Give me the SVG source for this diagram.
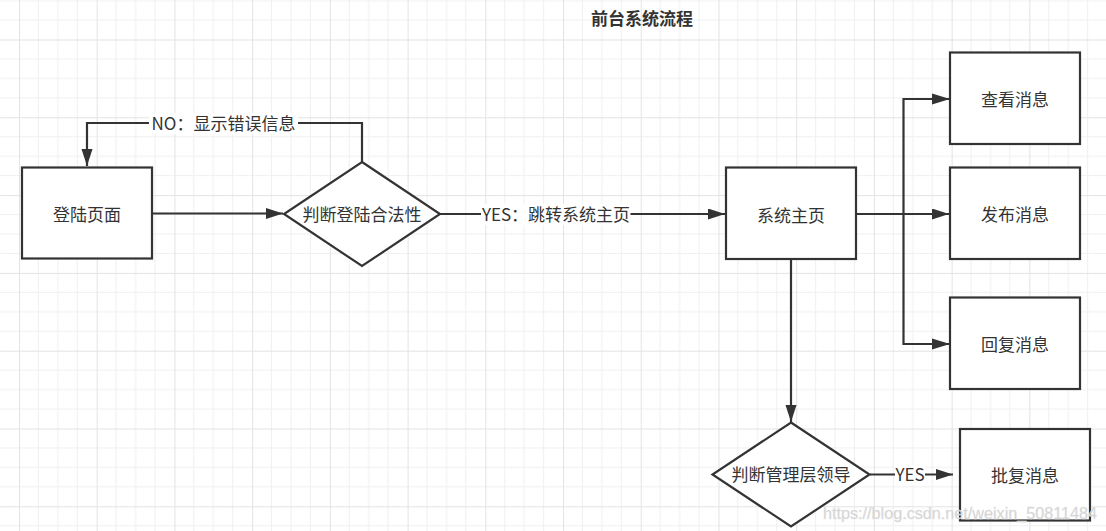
<svg xmlns="http://www.w3.org/2000/svg" width="1106" height="531" viewBox="0 0 1106 531">
<style>
.box{fill:#fff;stroke:#333;stroke-width:2.2}
.t{font-family:"Noto Sans CJK SC","Liberation Sans",sans-serif;font-size:17px;fill:#333;text-anchor:middle}
.title{font-family:"Noto Sans CJK SC","Liberation Sans",sans-serif;font-size:17px;font-weight:bold;fill:#333;text-anchor:middle}
.ln{fill:none;stroke:#333;stroke-width:2.2}
.lbg{fill:#fff}
.wm{font-family:"Liberation Sans",sans-serif;font-size:17px;fill:#cfcfcf;stroke:#e6e6e6;stroke-width:0.4}
</style>
<defs>
<pattern id="grid" patternUnits="userSpaceOnUse" x="19" y="39.5" width="77.72" height="77.8">
<rect width="77.72" height="77.8" fill="#fff"/>
<path d="M19.43 0V77.8M38.86 0V77.8M58.29 0V77.8M0 19.45H77.72M0 38.9H77.72M0 58.35H77.72" stroke="#f0f0f0" stroke-width="1"/>
<path d="M0.5 0V77.8M0 0.5H77.72" stroke="#e3e3e3" stroke-width="1"/>
</pattern>
<marker id="arr" markerUnits="userSpaceOnUse" markerWidth="18" markerHeight="12" refX="17" refY="5.5" orient="auto">
<path d="M0 0L17 5.5L0 11Z" fill="#333"/>
</marker>
</defs>
<rect width="1106" height="531" fill="url(#grid)"/>
<text class="title" x="642" y="25">前台系统流程</text>
<g id="connectors">
<polyline class="ln" points="362,162 362,123 87,123 87,166" marker-end="url(#arr)"/>
<rect class="lbg" x="149" y="113" width="149" height="21"/>
<text class="t" x="223.5" y="130">NO：显示错误信息</text>
<line class="ln" x1="152" y1="213.5" x2="283" y2="213.5" marker-end="url(#arr)"/>
<line class="ln" x1="440" y1="214" x2="725" y2="214" marker-end="url(#arr)"/>
<rect class="lbg" x="481" y="204" width="149.5" height="21"/>
<text class="t" x="556" y="221">YES：跳转系统主页</text>
<line class="ln" x1="856" y1="214" x2="949" y2="214" marker-end="url(#arr)"/>
<polyline class="ln" points="949,99 903.5,99 903.5,344 949,344"/>
<path d="M932 93.5L950 99L932 104.5Z M932 338.5L950 344L932 349.5Z" fill="#333"/>
<line class="ln" x1="791" y1="259" x2="791" y2="422" marker-end="url(#arr)"/>
<line class="ln" x1="870" y1="474.5" x2="953" y2="474.5" marker-end="url(#arr)"/>
<rect class="lbg" x="895" y="465" width="30" height="20"/>
<text class="t" x="910" y="481">YES</text>
</g>
<g id="login">
<rect class="box" x="22" y="167.5" width="130" height="91"/>
<text class="t" x="87" y="221">登陆页面</text>
</g>
<g id="check-login">
<polygon class="box" points="362,162 440,214 362,266 284,214"/>
<text class="t" x="362" y="220.5">判断登陆合法性</text>
</g>
<g id="home">
<rect class="box" x="726" y="167.5" width="130" height="91.5"/>
<text class="t" x="791" y="221.5">系统主页</text>
</g>
<g id="view-msg">
<rect class="box" x="950" y="52.5" width="130" height="91.5"/>
<text class="t" x="1015" y="106">查看消息</text>
</g>
<g id="post-msg">
<rect class="box" x="950" y="167.5" width="130" height="91.5"/>
<text class="t" x="1015" y="221">发布消息</text>
</g>
<g id="reply-msg">
<rect class="box" x="950" y="297.5" width="130" height="91.5"/>
<text class="t" x="1015" y="351">回复消息</text>
</g>
<g id="check-leader">
<polygon class="box" points="791,422.5 869.5,474.5 791,526.5 712.5,474.5"/>
<text class="t" x="791" y="481">判断管理层领导</text>
</g>
<g id="approve-msg">
<rect class="box" x="960" y="429" width="130" height="91.5"/>
<text class="t" x="1025" y="482">批复消息</text>
</g>
<text class="wm" x="823" y="518.5" textLength="274" lengthAdjust="spacingAndGlyphs">https://blog.csdn.net/weixin_50811484</text>
</svg>
